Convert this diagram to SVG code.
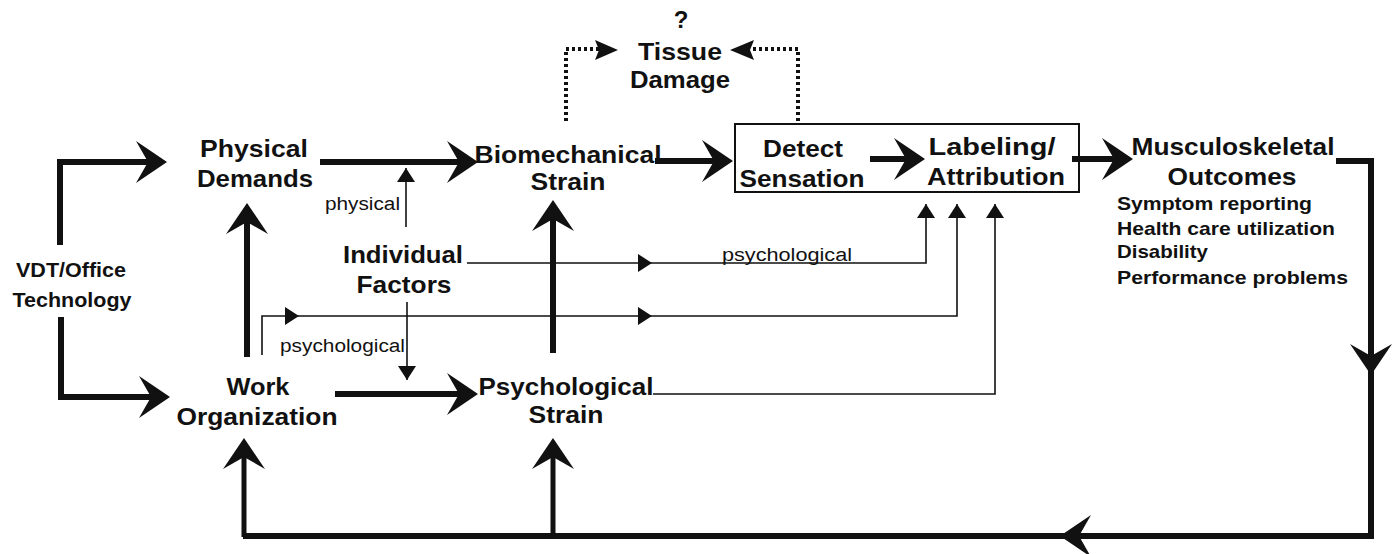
<svg xmlns="http://www.w3.org/2000/svg" xmlns:xlink="http://www.w3.org/1999/xlink" width="1400" height="554" viewBox="0 0 1400 554">
<style>
text{font-family:"Liberation Sans",Arial,sans-serif;fill:#111;}
.n{font-size:24px;font-weight:bold;text-anchor:middle;}
.v{font-size:21px;font-weight:bold;text-anchor:middle;}
.s{font-size:19px;font-weight:bold;}
.l{font-size:18px;}
.thick{fill:none;stroke:#111;stroke-width:6;stroke-linejoin:miter;}
.med{fill:none;stroke:#111;stroke-width:5;}
.thin{fill:none;stroke:#111;stroke-width:1.6;}
.dot{fill:none;stroke:#111;stroke-width:4;stroke-dasharray:3 3;}
.ah{fill:#111;stroke:none;}
</style>
<defs>
<marker id="big" viewBox="-32 -23 34 46" refX="-8" refY="0" markerWidth="34" markerHeight="46" markerUnits="userSpaceOnUse" orient="auto">
<path d="M0,0 L-31,-21 L-19,0 L-31,21 Z" fill="#111"/>
</marker>
<marker id="tri" viewBox="-15 -10 16 20" refX="0" refY="0" markerWidth="16" markerHeight="20" markerUnits="userSpaceOnUse" orient="auto">
<path d="M0,0 L-14,-9 L-14,9 Z" fill="#111"/>
</marker>
<path id="triR" d="M0,0 L-14,-9 L-14,9 Z"/>
</defs>

<g id="connectors">
<!-- VDT to Physical Demands / Work Organization -->
<path class="thick" d="M60,245 V162 H159" marker-end="url(#big)"/>
<path class="thick" d="M61,317 V397 H162" marker-end="url(#big)"/>
<!-- Work Org up to Physical Demands -->
<path class="thick" d="M247,357 V211" marker-end="url(#big)"/>
<!-- Physical -> Biomechanical -->
<path class="thick" d="M320,162 H470" marker-end="url(#big)"/>
<!-- Work Org -> Psychological -->
<path class="thick" d="M335,394 H470" marker-end="url(#big)"/>
<!-- Psych -> Biomech -->
<path class="thick" d="M553,353 V208" marker-end="url(#big)"/>
<!-- Biomech -> Detect -->
<path class="thick" d="M655,161 H725" marker-end="url(#big)"/>
<!-- Detect -> Labeling -->
<path class="thick" d="M870,159 H917" marker-end="url(#big)"/>
<!-- Labeling -> Musculoskeletal -->
<path class="thick" d="M1072,159 H1125" marker-end="url(#big)"/>
<!-- Musculoskeletal feedback loop -->
<path class="thick" d="M1336,161 H1371 V367" marker-end="url(#big)"/>
<path class="thick" d="M1371,355 V536 H1068" marker-end="url(#big)"/>
<path class="thick" d="M1080,536 H243"/>
<path class="med" d="M244,537 V446" marker-end="url(#big)"/>
<path class="med" d="M553,537 V446" marker-end="url(#big)"/>
<!-- Individual factors: physical up, psychological down -->
<path class="thin" d="M406,227 V168" marker-end="url(#tri)"/>
<path class="thin" d="M407,302 V380" marker-end="url(#tri)"/>
<!-- Individual -> Labeling (psychological) -->
<path class="thin" d="M467,263 H926 V204" marker-end="url(#tri)"/>
<use xlink:href="#triR" class="ah" x="652" y="263"/>
<!-- Work Org -> Labeling -->
<path class="thin" d="M262,355 V316 H957 V204" marker-end="url(#tri)"/>
<use xlink:href="#triR" class="ah" x="299" y="316"/>
<use xlink:href="#triR" class="ah" x="652" y="316"/>
<!-- Psych strain -> Labeling -->
<path class="thin" d="M653,394 H995 V204" marker-end="url(#tri)"/>
<!-- Dotted to Tissue Damage -->
<path class="dot" d="M566,121 V49 H600"/>
<path class="ah" d="M618,50 L595,40 L599,50 L595,60 Z"/>
<path class="dot" d="M798,121 V49 H748"/>
<path class="ah" d="M730,50 L754,40 L750,50 L754,60 Z"/>
<!-- labels -->
<text class="l" x="325" y="210" textLength="75" lengthAdjust="spacingAndGlyphs">physical</text>
<text class="l" x="722" y="261" textLength="130" lengthAdjust="spacingAndGlyphs">psychological</text>
<text class="l" x="280" y="352" textLength="125" lengthAdjust="spacingAndGlyphs">psychological</text>
</g>

<g id="vdt">
<text class="v" x="71" y="277" textLength="110" lengthAdjust="spacingAndGlyphs">VDT/Office</text>
<text class="v" x="72" y="307" textLength="119" lengthAdjust="spacingAndGlyphs">Technology</text>
</g>
<g id="physical-demands">
<text class="n" x="254" y="157" textLength="108" lengthAdjust="spacingAndGlyphs">Physical</text>
<text class="n" x="255" y="187" textLength="116" lengthAdjust="spacingAndGlyphs">Demands</text>
</g>
<g id="work-organization">
<text class="n" x="258" y="395" textLength="63" lengthAdjust="spacingAndGlyphs">Work</text>
<text class="n" x="257" y="425" textLength="161" lengthAdjust="spacingAndGlyphs">Organization</text>
</g>
<g id="individual-factors">
<text class="n" x="403" y="263" textLength="120" lengthAdjust="spacingAndGlyphs">Individual</text>
<text class="n" x="404" y="293" textLength="95" lengthAdjust="spacingAndGlyphs">Factors</text>
</g>
<g id="biomechanical-strain">
<text class="n" x="568" y="163" textLength="187" lengthAdjust="spacingAndGlyphs">Biomechanical</text>
<text class="n" x="568" y="190" textLength="75" lengthAdjust="spacingAndGlyphs">Strain</text>
</g>
<g id="psychological-strain">
<text class="n" x="566" y="395" textLength="175" lengthAdjust="spacingAndGlyphs">Psychological</text>
<text class="n" x="566" y="423" textLength="75" lengthAdjust="spacingAndGlyphs">Strain</text>
</g>
<g id="tissue-damage">
<text class="n" x="681" y="28">?</text>
<text class="n" x="680" y="60" textLength="84" lengthAdjust="spacingAndGlyphs">Tissue</text>
<text class="n" x="680" y="88" textLength="100" lengthAdjust="spacingAndGlyphs">Damage</text>
</g>
<g id="detect-labeling">
<rect x="735" y="124" width="344" height="68" fill="none" stroke="#111" stroke-width="2"/>
<g id="detect-sensation">
<text class="n" x="803" y="157" textLength="80" lengthAdjust="spacingAndGlyphs">Detect</text>
<text class="n" x="802" y="187" textLength="125" lengthAdjust="spacingAndGlyphs">Sensation</text>
</g>
<g id="labeling-attribution">
<text class="n" x="992" y="155" textLength="127" lengthAdjust="spacingAndGlyphs">Labeling/</text>
<text class="n" x="996" y="185" textLength="138" lengthAdjust="spacingAndGlyphs">Attribution</text>
</g>
</g>
<g id="musculoskeletal-outcomes">
<text class="n" x="1233" y="155" textLength="203" lengthAdjust="spacingAndGlyphs">Musculoskeletal</text>
<text class="n" x="1232" y="185" textLength="129" lengthAdjust="spacingAndGlyphs">Outcomes</text>
<text class="s" x="1117" y="210" textLength="195" lengthAdjust="spacingAndGlyphs">Symptom reporting</text>
<text class="s" x="1117" y="235" textLength="218" lengthAdjust="spacingAndGlyphs">Health care utilization</text>
<text class="s" x="1117" y="258" textLength="91" lengthAdjust="spacingAndGlyphs">Disability</text>
<text class="s" x="1117" y="284" textLength="231" lengthAdjust="spacingAndGlyphs">Performance problems</text>
</g>
</svg>
